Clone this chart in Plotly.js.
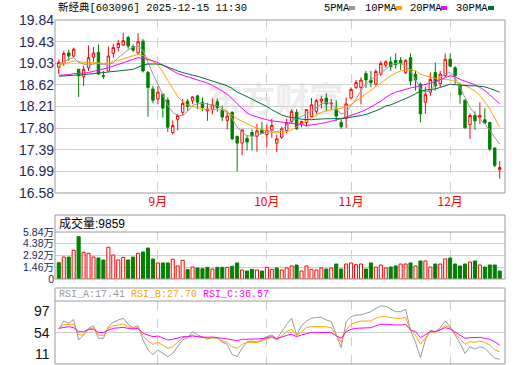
<!DOCTYPE html>
<html><head><meta charset="utf-8">
<script src="https://cdn.plot.ly/plotly-3.0.1.min.js"></script>
<style>html,body{margin:0;padding:0;background:#fff}#chart{width:520px;height:365px}</style>
</head><body><div id="chart"></div>
<script>
// ---------------- data ----------------
const stockTitle = '新经典[603096] 2025-12-15 11:30';
const monthTickIdx = [20, 42, 59, 79];
const monthLabels = ['9月', '10月', '11月', '12月'];
const priceTickLabels = ['19.84','19.43','19.03','18.62','18.21','17.80','17.39','16.99','16.58'];
const volTickLabels = ['0','1.46万','2.92万','4.38万','5.84万'];
const volTickVals = [0, 1.46, 2.92, 4.38, 5.84];
const rsiTickLabels = ['97','54','11'];
const rsiTickVals = [97, 54, 11];
const maNames = ['5PMA','10PMA','20PMA','30PMA'];
const lastVolumeText = '9859';

const openP = [
18.95,19.02,19.22,19.16,18.91,18.77,18.94,19.14,19.23,18.79,
18.88,19.21,19.32,19.37,19.51,19.34,19.22,19.44,18.85,18.54,
18.35,18.44,18.33,17.72,17.97,18.10,18.31,18.32,18.41,18.29,
18.13,18.16,18.30,18.14,17.95,18.10,17.65,17.52,17.61,17.72,
17.65,17.77,17.68,17.77,17.52,17.63,17.76,17.93,18.10,17.88,
17.91,18.02,18.12,18.31,18.37,18.26,18.16,17.91,17.99,18.37,
18.57,18.57,18.83,18.71,18.63,18.82,18.99,19.05,19.08,19.08,
18.85,19.13,18.82,18.63,18.29,18.48,18.85,18.64,18.79,19.10,
18.94,18.60,18.33,17.87,18.04,18.01,17.96,17.91,17.43,17.02];
const highP = [
19.09,19.26,19.28,19.32,18.92,18.98,19.36,19.33,19.38,18.88,
19.34,19.39,19.46,19.60,19.54,19.38,19.59,19.48,18.88,18.60,
18.60,18.46,18.38,17.95,18.07,18.35,18.35,18.40,18.43,18.38,
18.28,18.36,18.36,18.23,18.12,18.12,17.65,17.77,17.67,17.78,
17.88,17.92,17.88,17.98,17.68,17.83,17.98,18.16,18.16,17.94,
18.16,18.37,18.35,18.41,18.46,18.35,18.33,17.97,18.38,18.57,
18.71,18.76,18.88,18.88,18.91,19.07,19.08,19.15,19.21,19.14,
19.10,19.21,18.88,18.66,18.58,18.85,19.04,18.88,19.21,19.21,
18.97,18.66,18.34,18.08,18.12,18.29,18.18,17.92,17.43,17.18];
const lowP = [
18.82,18.97,19.07,19.14,18.39,18.60,18.88,19.05,18.81,18.73,
18.88,19.13,19.25,19.35,19.30,19.24,19.19,18.85,18.02,18.27,
18.25,18.00,17.73,17.68,17.76,18.04,18.13,18.26,18.16,18.12,
17.94,18.06,18.11,17.94,17.78,17.58,16.99,17.29,17.38,17.38,
17.36,17.69,17.45,17.62,17.35,17.60,17.70,17.88,17.77,17.82,
17.83,18.01,18.07,18.18,18.12,18.15,17.94,17.79,17.81,18.35,
18.54,18.25,18.56,18.57,18.60,18.79,18.94,18.88,18.92,18.90,
18.82,18.60,18.51,17.91,18.07,18.41,18.51,18.57,18.76,18.96,
18.63,18.26,17.79,17.60,17.77,17.88,17.88,17.37,17.07,16.85];
const closeP = [
19.04,19.21,19.16,19.29,18.79,18.91,19.13,19.22,18.82,18.78,
19.16,19.32,19.40,19.45,19.35,19.27,19.43,18.88,18.57,18.33,
18.48,18.18,17.82,17.85,18.04,18.27,18.21,18.39,18.29,18.19,
18.16,18.24,18.19,18.01,18.03,17.60,17.52,17.77,17.54,17.66,
17.75,17.70,17.76,17.85,17.60,17.79,17.90,18.12,17.79,17.93,
18.15,18.24,18.32,18.35,18.26,18.27,18.03,17.83,18.26,18.53,
18.66,18.71,18.71,18.66,18.87,19.02,19.05,18.96,19.00,19.02,
19.08,18.69,18.71,18.07,18.44,18.72,18.60,18.82,19.10,18.97,
18.79,18.43,17.81,18.04,17.94,18.04,17.90,17.41,17.10,17.06];

const ma5 = [
19.01,19.06,19.10,19.13,19.04,19.01,18.99,19.01,19.02,19.00,
18.99,19.04,19.13,19.20,19.28,19.33,19.35,19.27,19.04,18.82,
18.63,18.44,18.23,18.10,18.04,18.04,18.12,18.23,18.26,18.27,
18.26,18.23,18.23,18.16,18.12,17.98,17.82,17.73,17.66,17.65,
17.66,17.70,17.73,17.76,17.73,17.77,17.85,17.94,17.98,18.02,
18.07,18.12,18.19,18.26,18.29,18.26,18.16,18.07,18.10,18.23,
18.35,18.51,18.63,18.72,18.79,18.85,18.91,18.99,19.02,19.02,
18.97,18.88,18.72,18.54,18.48,18.51,18.63,18.76,18.83,18.85,
18.76,18.57,18.35,18.19,18.07,17.98,17.88,17.76,17.63,17.50];
const ma10 = [
18.99,19.01,19.04,19.07,19.06,19.04,19.03,19.04,19.03,19.02,
19.03,19.05,19.08,19.11,19.14,19.17,19.19,19.17,19.12,19.06,
18.99,18.86,18.70,18.55,18.40,18.30,18.24,18.21,18.18,18.16,
18.16,18.16,18.16,18.15,18.10,18.05,17.98,17.93,17.88,17.84,
17.80,17.77,17.74,17.72,17.71,17.72,17.74,17.77,17.82,17.88,
17.94,17.99,18.04,18.10,18.13,18.15,18.17,18.18,18.20,18.25,
18.31,18.38,18.45,18.52,18.59,18.65,18.72,18.79,18.84,18.88,
18.90,18.91,18.88,18.82,18.79,18.76,18.74,18.73,18.72,18.71,
18.68,18.64,18.60,18.56,18.50,18.42,18.30,18.16,17.99,17.82];
const ma20 = [
18.80,18.80,18.81,18.83,18.83,18.84,18.85,18.87,18.89,18.91,
18.94,18.97,19.00,19.03,19.07,19.10,19.13,19.12,19.10,19.07,
19.04,18.99,18.93,18.88,18.83,18.80,18.77,18.75,18.72,18.69,
18.65,18.61,18.56,18.50,18.44,18.36,18.26,18.17,18.09,18.04,
18.01,17.98,17.96,17.94,17.93,17.92,17.91,17.90,17.89,17.87,
17.85,17.86,17.87,17.89,17.91,17.93,17.95,17.98,18.01,18.04,
18.07,18.11,18.15,18.20,18.25,18.31,18.38,18.44,18.48,18.51,
18.54,18.56,18.58,18.60,18.62,18.65,18.68,18.71,18.75,18.79,
18.77,18.72,18.69,18.66,18.62,18.57,18.51,18.43,18.35,18.26];
const ma30 = [
18.78,18.79,18.79,18.80,18.80,18.81,18.82,18.83,18.84,18.85,
18.85,18.86,18.87,18.89,18.90,18.91,18.95,18.99,19.01,19.01,
19.01,18.99,18.95,18.92,18.88,18.85,18.82,18.80,18.78,18.75,
18.72,18.69,18.66,18.63,18.60,18.55,18.48,18.44,18.40,18.35,
18.30,18.26,18.21,18.15,18.10,18.05,18.02,18.01,17.99,17.97,
17.96,17.96,17.97,17.98,17.98,17.98,17.98,17.98,17.99,18.01,
18.02,18.04,18.06,18.09,18.13,18.17,18.22,18.24,18.28,18.31,
18.35,18.40,18.45,18.50,18.52,18.53,18.54,18.57,18.60,18.63,
18.62,18.61,18.61,18.60,18.60,18.59,18.58,18.55,18.52,18.48];

// volume in 万 (10k shares)
const volume = [
2.03,2.73,2.73,3.57,5.26,3.32,3.19,2.73,2.61,2.36,
3.94,2.98,2.36,2.69,2.36,2.73,3.19,3.36,3.85,2.49,
1.99,1.99,1.99,2.45,1.62,2.32,1.16,1.49,1.37,1.28,
1.45,1.24,1.45,1.45,1.45,1.58,1.99,1.12,0.99,1.20,
1.12,0.99,1.45,1.20,1.37,1.12,1.37,1.62,1.74,0.99,
1.62,1.20,1.12,1.37,1.24,1.37,1.86,1.24,1.86,1.99,
1.78,1.86,1.24,1.99,1.49,1.74,1.37,1.49,1.62,1.86,
1.86,1.99,1.62,2.24,2.24,1.49,1.86,1.86,2.49,2.61,
1.86,1.62,1.86,2.11,2.24,1.74,1.49,1.74,1.74,0.99];
// 1 = up day (red hollow bar), 0 = down day (green bar)
const volUp = [
0,1,0,1,0,1,1,1,0,0,
1,1,1,1,0,0,1,0,0,0,
1,0,0,1,1,1,0,1,0,0,
0,1,0,0,1,0,0,1,0,0,
1,0,1,1,0,1,1,1,0,1,
1,1,1,1,0,1,0,0,1,1,
1,1,0,0,1,1,1,0,0,1,
1,0,1,0,1,1,0,1,1,0,
0,0,0,1,0,1,0,0,0,0];

const rsiA = [
58.4,69.7,66.6,71.8,43.8,50.6,59.7,63.3,46.1,46.1,
61.9,68.0,71.1,73.4,65.2,60.6,63.3,43.8,30.1,24.0,
30.1,25.6,21.0,25.6,34.6,43.8,47.0,55.1,50.6,48.3,
45.0,46.9,46.9,40.6,37.9,24.0,21.0,32.4,41.5,42.4,
40.6,43.8,48.3,50.6,45.2,55.1,65.2,73.4,50.6,63.3,
69.7,73.4,74.7,74.7,71.1,68.8,50.6,33.3,68.8,75.6,
77.9,77.9,80.2,82.4,87.0,90.2,89.8,86.1,82.4,82.4,
85.7,57.4,40.6,19.6,43.8,57.4,55.1,60.6,69.7,61.9,
50.6,39.3,25.6,34.6,31.4,34.6,32.4,25.6,18.8,17.41];
const rsiB = [
59.7,64.2,65.2,65.2,51.0,50.6,57.9,60.6,50.6,49.5,
59.7,63.3,64.2,65.7,61.9,59.7,60.6,49.6,42.4,37.9,
40.6,36.9,32.4,34.6,40.6,46.9,48.3,50.6,48.3,47.4,
46.1,46.9,46.1,42.4,40.6,34.6,32.4,37.9,40.6,40.6,
40.2,42.0,45.6,47.4,43.8,49.6,55.1,58.4,49.6,55.1,
60.6,61.9,61.9,61.9,61.9,60.6,50.6,40.6,57.4,65.2,
68.0,69.7,69.7,69.7,73.4,75.6,75.6,74.2,73.4,73.4,
74.7,57.4,50.6,37.9,46.9,55.1,54.2,57.4,63.3,60.6,
52.9,46.1,37.9,41.5,40.6,42.4,40.6,36.9,30.1,27.70];
const rsiC = [
59.7,61.0,61.9,60.6,55.1,55.1,58.4,58.4,54.2,53.7,
57.4,59.7,60.6,61.0,59.7,58.8,59.7,52.9,50.6,48.3,
49.2,46.9,43.8,44.7,46.1,48.3,48.3,49.2,48.3,47.4,
47.4,47.8,47.4,46.1,45.2,43.8,42.9,44.7,45.2,45.2,
45.2,45.6,46.9,48.3,45.6,48.3,50.1,51.5,48.3,50.6,
52.9,54.2,54.2,54.2,54.2,53.7,49.6,46.1,55.1,58.4,
59.7,59.7,60.6,60.6,63.3,65.2,65.2,64.2,64.2,64.2,
65.2,57.4,55.1,46.9,51.5,55.1,55.1,57.4,60.6,58.8,
54.2,49.6,46.1,46.9,46.9,47.4,46.1,44.7,41.5,36.57];

// ---------------- styles & geometry ----------------
const RED = '#ff0000', GREEN = '#008000';
const maColors = ['#9a9a9a', '#ffa500', '#ff00ff', '#00703a'];
const GRID = '#cfcfcf', BORDER = '#9a9a9a';
const W = 520, H = 365, ML = 55, MR = 15, MT = 20, MB = 1;
const PW = W - ML - MR, PH = H - MT - MB;
const py = p => (H - MB - p) / PH;   // pixel row -> paper y
const px = p => (p - ML) / PW;       // pixel col -> paper x

const idx = closeP.map((_, i) => i);
const xRange = [-0.77, 90.07];
const priceRange = [16.58, 19.84];
const priceTickVals = priceTickLabels.map((_, k) =>
  priceRange[1] - k * (priceRange[1] - priceRange[0]) / (priceTickLabels.length - 1));

const numFont = 'Liberation Sans Narrow, Liberation Sans, Arial, Noto Sans CJK SC';
const monoFont = 'Liberation Mono, DejaVu Sans Mono, Noto Sans CJK SC';

const traces = [];
traces.push({
  type: 'candlestick', x: idx, open: openP, high: highP, low: lowP, close: closeP,
  xaxis: 'x', yaxis: 'y', hoverinfo: 'skip', whiskerwidth: 0,
  increasing: {line: {color: RED, width: 1}, fillcolor: '#ffffff'},
  decreasing: {line: {color: GREEN, width: 1}, fillcolor: GREEN},
  showlegend: false
});
[ma5, ma10, ma20, ma30].forEach((arr, k) => traces.push({
  type: 'scatter', mode: 'lines', x: idx, y: arr, xaxis: 'x', yaxis: 'y',
  line: {color: maColors[k], width: 1}, hoverinfo: 'skip', showlegend: false
}));
traces.push({
  type: 'bar', x: idx, y: volume, xaxis: 'x2', yaxis: 'y2', width: 0.62,
  marker: {color: volUp.map(u => u ? '#ffffff' : GREEN),
           line: {color: volUp.map(u => u ? RED : GREEN), width: 1}},
  hoverinfo: 'skip', showlegend: false
});
const rsiColors = ['#9a9a9a', '#ffa500', '#ff00ff'];
[rsiA, rsiB, rsiC].forEach((arr, k) => traces.push({
  type: 'scatter', mode: 'lines', x: idx, y: arr, xaxis: 'x3', yaxis: 'y3',
  line: {color: rsiColors[k], width: 1}, hoverinfo: 'skip', showlegend: false
}));

const xCommon = {
  range: xRange, tickvals: monthTickIdx, ticktext: monthLabels,
  showgrid: true, gridcolor: GRID, griddash: 'dash', gridwidth: 1,
  zeroline: false, showline: false, ticks: '', fixedrange: true
};

const shapes = [
  // watermark
  {type: 'rect', xref: 'paper', yref: 'paper', x0: px(195), x1: px(355), y0: py(125), y1: py(80),
   line: {width: 0}, fillcolor: 'rgba(0,0,0,0)', layer: 'below',
   label: {text: '东方财富', font: {size: 34, color: '#ececec', family: 'Noto Sans CJK SC', weight: 'bold'}}},
  // panel borders
  {type: 'rect', xref: 'paper', yref: 'paper', x0: 0, x1: 1, y0: py(193), y1: py(20), line: {color: BORDER, width: 1}},
  {type: 'rect', xref: 'paper', yref: 'paper', x0: 0, x1: 1, y0: py(279), y1: py(215), line: {color: BORDER, width: 1}},
  {type: 'line', xref: 'paper', yref: 'paper', x0: 0, x1: 1, y0: py(232), y1: py(232), line: {color: BORDER, width: 1}},
  {type: 'rect', xref: 'paper', yref: 'paper', x0: 0, x1: 1, y0: py(364), y1: py(288), line: {color: BORDER, width: 1}},
  {type: 'line', xref: 'paper', yref: 'paper', x0: 0, x1: 1, y0: py(301), y1: py(301), line: {color: BORDER, width: 1}}
];

// MA legend: text + small colour square
const legendPos = [[322, 349], [363, 396], [408, 441], [454, 488]];
const annotations = [];
maNames.forEach((n, k) => {
  annotations.push({xref: 'paper', yref: 'paper', x: px(legendPos[k][0]), y: py(8), xanchor: 'left', yanchor: 'middle',
    text: n, showarrow: false, font: {family: monoFont, size: 10.5, color: '#000'}});
  shapes.push({type: 'rect', xref: 'paper', yref: 'paper', x0: px(legendPos[k][1]), x1: px(legendPos[k][1] + 6),
    y0: py(10), y1: py(6), line: {width: 0}, fillcolor: maColors[k]});
});
annotations.push({xref: 'paper', yref: 'paper', x: px(56), y: py(8), xanchor: 'left', yanchor: 'middle',
  text: stockTitle, showarrow: false, font: {family: monoFont, size: 10.5, color: '#000'}});
annotations.push({xref: 'paper', yref: 'paper', x: px(57), y: py(224), xanchor: 'left', yanchor: 'middle',
  text: '成交量:' + lastVolumeText, showarrow: false, font: {family: 'Liberation Sans, Noto Sans CJK SC', size: 12, color: '#000'}});
const rsiLast = [rsiA, rsiB, rsiC].map(a => a[a.length - 1].toFixed(2));
annotations.push({xref: 'paper', yref: 'paper', x: px(57), y: py(294.5), xanchor: 'left', yanchor: 'middle',
  text: ['A', 'B', 'C'].map((s, k) => `<span style="color:${rsiColors[k]}">RSI_${s}:${rsiLast[k]}</span>`).join(' '),
  showarrow: false, font: {family: monoFont, size: 10, color: '#999'}});
rsiTickVals.forEach((v, k) => annotations.push({
  xref: 'paper', yref: 'y3', x: px(52), y: v, xanchor: 'right',
  yanchor: k === 0 ? 'top' : (k === rsiTickVals.length - 1 ? 'bottom' : 'middle'),
  text: rsiTickLabels[k], showarrow: false, font: {family: numFont, size: 14, color: '#111'}
}));

const layout = {
  width: W, height: H, margin: {l: ML, r: MR, t: MT, b: MB, pad: 0},
  paper_bgcolor: '#ffffff', plot_bgcolor: '#ffffff', showlegend: false,
  font: {family: 'Liberation Sans, Noto Sans CJK SC', size: 12, color: '#000'},
  boxgap: 0.3,
  xaxis: Object.assign({}, xCommon, {anchor: 'y', domain: [0, 1], rangeslider: {visible: false},
    tickfont: {family: 'Noto Sans CJK SC', size: 12, color: RED}}),
  xaxis2: Object.assign({}, xCommon, {anchor: 'y2', matches: 'x', showticklabels: false}),
  xaxis3: Object.assign({}, xCommon, {anchor: 'y3', matches: 'x', showticklabels: false}),
  yaxis: {domain: [py(193), py(20)], range: priceRange, tickvals: priceTickVals, ticktext: priceTickLabels,
    showgrid: true, gridcolor: GRID, zeroline: false, ticks: '', fixedrange: true,
    tickfont: {family: numFont, size: 14, color: '#1e2a5a'}},
  yaxis2: {domain: [py(279), py(232)], range: [0, 5.84], tickvals: volTickVals, ticktext: volTickLabels,
    showgrid: true, gridcolor: GRID, zeroline: false, ticks: '', fixedrange: true,
    tickfont: {family: numFont, size: 10.5, color: '#1e2a5a'}},
  yaxis3: {domain: [0, py(301)], range: [11, 97], tickvals: [54], showticklabels: false,
    showgrid: true, gridcolor: GRID, zeroline: false, ticks: '', fixedrange: true},
  shapes: shapes, annotations: annotations
};

Plotly.newPlot('chart', traces, layout, {staticPlot: true, displayModeBar: false});
</script></body></html>
